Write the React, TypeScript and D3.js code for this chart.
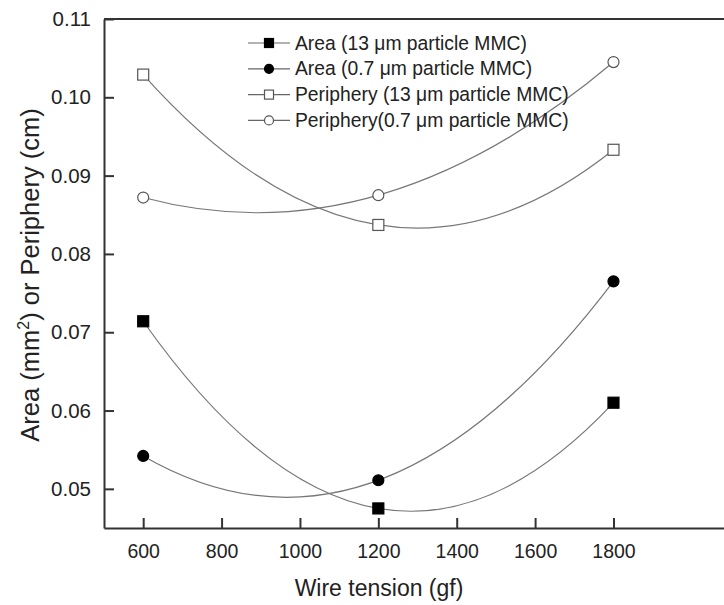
import React, { useEffect, useRef } from 'react'
import * as d3 from 'd3'

// wire tension (gf)
const tensions = [600, 1200, 1800]

const area13 = [0.0714, 0.0475, 0.061]
const area07 = [0.0542, 0.0511, 0.0765]
const peri13 = [0.1029, 0.0837, 0.0933]
const peri07 = [0.0872, 0.0875, 0.1045]

const xTicks = [600, 800, 1000, 1200, 1400, 1600, 1800]
const yTicks = [0.05, 0.06, 0.07, 0.08, 0.09, 0.1, 0.11]

const seriesNames = [
  'Area (13 \u03bcm particle MMC)',
  'Area (0.7 \u03bcm particle MMC)',
  'Periphery (13 \u03bcm particle MMC)',
  'Periphery(0.7 \u03bcm particle MMC)',
]
const seriesValues = [area13, area07, peri13, peri07]
const seriesShapes = ['square', 'circle', 'square', 'circle']
const seriesFilled = [true, true, false, false]

const W = 724
const H = 605
const FONT = 'Arial, "Liberation Sans", sans-serif'

// quadratic through the 3 points (second order fit, like the original plot)
class CurveParabola {
  _context: any
  _pts: [number, number][] = []
  constructor(context: any) {
    this._context = context
  }
  areaStart() {}
  areaEnd() {}
  lineStart() {
    this._pts = []
  }
  point(x: number, y: number) {
    this._pts.push([+x, +y])
  }
  lineEnd() {
    const p = this._pts
    const c = this._context
    if (p.length === 3) {
      const cx = 2 * p[1][0] - (p[0][0] + p[2][0]) / 2
      const cy = 2 * p[1][1] - (p[0][1] + p[2][1]) / 2
      c.moveTo(p[0][0], p[0][1])
      c.quadraticCurveTo(cx, cy, p[2][0], p[2][1])
    } else {
      p.forEach((q, i) => (i ? c.lineTo(q[0], q[1]) : c.moveTo(q[0], q[1])))
    }
  }
}
const curveParabola = (context: any) => new CurveParabola(context)

function drawMarker(g: any, shape: string, filled: boolean, x: number, y: number, size: number) {
  const fill = filled ? '#000' : '#fff'
  const stroke = filled ? '#000' : '#555'
  if (shape === 'square') {
    g.append('rect')
      .attr('x', x - size / 2)
      .attr('y', y - size / 2)
      .attr('width', size)
      .attr('height', size)
      .attr('fill', fill)
      .attr('stroke', stroke)
      .attr('stroke-width', 1.2)
  } else {
    g.append('circle')
      .attr('cx', x)
      .attr('cy', y)
      .attr('r', size / 2)
      .attr('fill', fill)
      .attr('stroke', stroke)
      .attr('stroke-width', 1.2)
  }
}

export default function App() {
  const svgRef = useRef<SVGSVGElement>(null)

  useEffect(() => {
    const svg = d3.select(svgRef.current)
    svg.selectAll('*').remove()

    const x = d3.scaleLinear().domain([500, 2082]).range([104, 724])
    const y = d3.scaleLinear().domain([0.045, 0.11]).range([528, 19])

    const axisColor = '#333'
    const textColor = '#222'

    // data curves
    const line = d3
      .line<number>()
      .x((_, i) => x(tensions[i]))
      .y((d) => y(d))
      .curve(curveParabola as any)

    seriesValues.forEach((vals) => {
      svg
        .append('path')
        .attr('d', line(vals))
        .attr('fill', 'none')
        .attr('stroke', '#777')
        .attr('stroke-width', 1.2)
    })

    seriesValues.forEach((vals, s) => {
      vals.forEach((v, i) => {
        drawMarker(svg, seriesShapes[s], seriesFilled[s], x(tensions[i]), y(v), 11)
      })
    })

    // x axis
    const gx = svg.append('g').attr('transform', `translate(0,${y(0.045)})`)
    gx.call(
      d3
        .axisBottom(x)
        .tickValues(xTicks)
        .tickSizeInner(-10)
        .tickSizeOuter(0)
        .tickPadding(16)
        .tickFormat(d3.format('d') as any)
    )
    gx.select('.domain').attr('stroke', axisColor).attr('stroke-width', 2)
    gx.selectAll('.tick line').attr('stroke', axisColor).attr('stroke-width', 2)
    gx.selectAll('.tick text')
      .attr('font-family', FONT)
      .attr('font-size', 19.5)
      .attr('fill', textColor)

    // y axis
    const gy = svg.append('g').attr('transform', `translate(${x(500)},0)`)
    gy.call(
      d3
        .axisLeft(y)
        .tickValues(yTicks)
        .tickSizeInner(-10)
        .tickSizeOuter(0)
        .tickPadding(13)
        .tickFormat(d3.format('.2f') as any)
    )
    gy.select('.domain').attr('stroke', axisColor).attr('stroke-width', 2)
    gy.selectAll('.tick line').attr('stroke', axisColor).attr('stroke-width', 2)
    gy.selectAll('.tick text')
      .attr('font-family', FONT)
      .attr('font-size', 20.5)
      .attr('fill', textColor)

    // top frame line
    svg
      .append('line')
      .attr('x1', x(500))
      .attr('x2', x(2082))
      .attr('y1', y(0.11))
      .attr('y2', y(0.11))
      .attr('stroke', axisColor)
      .attr('stroke-width', 2)

    // axis titles
    svg
      .append('text')
      .attr('x', 379)
      .attr('y', 596)
      .attr('text-anchor', 'middle')
      .attr('font-family', FONT)
      .attr('font-size', 23)
      .attr('fill', textColor)
      .text('Wire tension (gf)')

    const yt = svg
      .append('text')
      .attr('transform', 'translate(39,275) rotate(-90)')
      .attr('text-anchor', 'middle')
      .attr('font-family', FONT)
      .attr('font-size', 25.5)
      .attr('fill', textColor)
    yt.append('tspan').text('Area (mm')
    yt.append('tspan').attr('font-size', 16).attr('dy', -10).text('2')
    yt.append('tspan').attr('dy', 10).text(') or Periphery (cm)')

    // legend
    const lg = svg.append('g')
    seriesNames.forEach((name, s) => {
      const cy = 43 + s * 25.8
      lg.append('line')
        .attr('x1', 248)
        .attr('x2', 290)
        .attr('y1', cy)
        .attr('y2', cy)
        .attr('stroke', '#666')
        .attr('stroke-width', 1.2)
      drawMarker(lg, seriesShapes[s], seriesFilled[s], 269, cy, 9)
      lg.append('text')
        .attr('x', 295)
        .attr('y', cy)
        .attr('dominant-baseline', 'central')
        .attr('font-family', FONT)
        .attr('font-size', 19.3)
        .attr('fill', textColor)
        .text(name)
    })
  }, [])

  return (
    <svg
      ref={svgRef}
      width={W}
      height={H}
      style={{ position: 'absolute', left: 0, top: 0, background: '#fff' }}
    />
  )
}
